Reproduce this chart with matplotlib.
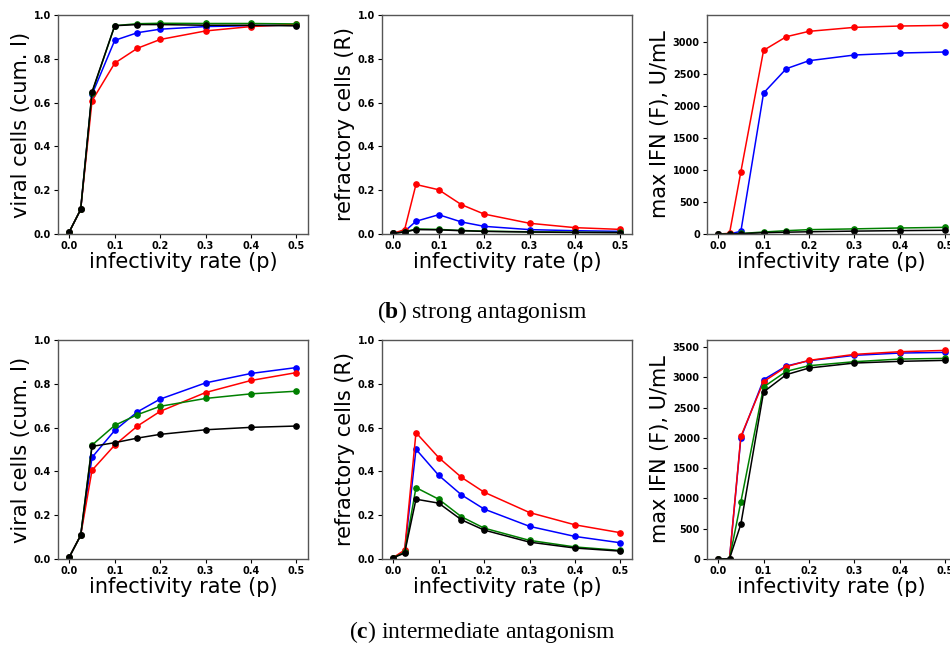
import matplotlib
matplotlib.use('Agg')
import matplotlib.pyplot as plt

# infectivity rates used for all sweeps
p_values = [0.0, 0.025, 0.05, 0.1, 0.15, 0.2, 0.3, 0.4, 0.5]

# (b) strong antagonism
strong_viral = {
    'b': [0.01, 0.112, 0.637, 0.884, 0.919, 0.935, 0.947, 0.951, 0.954],
    'r': [0.01, 0.112, 0.608, 0.780, 0.848, 0.888, 0.927, 0.947, 0.957],
    'g': [0.01, 0.112, 0.645, 0.951, 0.960, 0.962, 0.961, 0.961, 0.959],
    'k': [0.01, 0.112, 0.649, 0.951, 0.956, 0.956, 0.953, 0.953, 0.950],
}
strong_refractory = {
    'b': [0.003, 0.012, 0.058, 0.088, 0.055, 0.035, 0.020, 0.015, 0.012],
    'r': [0.003, 0.020, 0.226, 0.202, 0.134, 0.091, 0.049, 0.029, 0.021],
    'g': [0.003, 0.010, 0.023, 0.021, 0.016, 0.013, 0.010, 0.008, 0.007],
    'k': [0.003, 0.009, 0.020, 0.019, 0.015, 0.012, 0.009, 0.007, 0.006],
}
strong_ifn = {
    'b': [0, 0, 42, 2203, 2583, 2708, 2797, 2828, 2844],
    'r': [0, 10, 974, 2870, 3083, 3167, 3229, 3250, 3260],
    'g': [0, 0, 8, 31, 52, 68, 80, 94, 104],
    'k': [0, 0, 5, 20, 28, 35, 45, 53, 58],
}

# (c) intermediate antagonism
inter_viral = {
    'b': [0.009, 0.108, 0.464, 0.587, 0.672, 0.730, 0.804, 0.847, 0.874],
    'r': [0.009, 0.108, 0.405, 0.520, 0.607, 0.674, 0.760, 0.815, 0.851],
    'g': [0.009, 0.108, 0.520, 0.610, 0.659, 0.697, 0.733, 0.754, 0.766],
    'k': [0.009, 0.108, 0.514, 0.531, 0.552, 0.569, 0.590, 0.601, 0.607],
}
inter_refractory = {
    'b': [0.006, 0.035, 0.501, 0.382, 0.293, 0.228, 0.149, 0.103, 0.074],
    'r': [0.006, 0.041, 0.577, 0.463, 0.373, 0.305, 0.212, 0.156, 0.120],
    'g': [0.006, 0.030, 0.326, 0.273, 0.193, 0.141, 0.085, 0.055, 0.039],
    'k': [0.006, 0.027, 0.273, 0.255, 0.179, 0.132, 0.077, 0.050, 0.036],
}
inter_ifn = {
    'b': [0, 5, 2002, 2962, 3187, 3275, 3363, 3401, 3412],
    'r': [0, 5, 2024, 2929, 3176, 3280, 3379, 3423, 3445],
    'g': [0, 5, 944, 2841, 3099, 3192, 3258, 3302, 3313],
    'k': [0, 5, 576, 2759, 3044, 3154, 3236, 3264, 3280],
}

COLORS = {'b': 'blue', 'r': 'red', 'g': 'green', 'k': 'black'}
XLABEL = 'infectivity rate (p)'
LABEL_SIZE = 15
TICK_SIZE = 7

plt.rcParams['mathtext.fontset'] = 'custom'
plt.rcParams['mathtext.rm'] = 'Liberation Serif'
plt.rcParams['mathtext.bf'] = 'Liberation Serif:bold'

fig = plt.figure(figsize=(9.5, 6.5), dpi=100)

lefts = [0.061, 0.402, 0.744]
bottoms = [0.640, 0.140]
width, height = 0.263, 0.337


def draw_panel(ax, series, ylabel, fraction=True):
    for key in ['b', 'r', 'g', 'k']:
        ax.plot(p_values, series[key], '-o', color=COLORS[key], lw=1.1, ms=3.8)
    if fraction:
        ax.set_ylim(0, 1.0)
    else:
        ax.set_ylim(bottom=0)
    ax.set_xticks([0.0, 0.1, 0.2, 0.3, 0.4, 0.5])
    ax.set_xlabel(XLABEL, fontsize=LABEL_SIZE, labelpad=1)
    ax.set_ylabel(ylabel, fontsize=LABEL_SIZE, labelpad=2)
    ax.tick_params(labelsize=TICK_SIZE, length=3, width=0.8, pad=2)
    for lbl in ax.get_xticklabels() + ax.get_yticklabels():
        lbl.set_fontweight('bold')
    for sp in ax.spines.values():
        sp.set_color('#555555')
        sp.set_linewidth(1.0)


rows = [
    (strong_viral, strong_refractory, strong_ifn),
    (inter_viral, inter_refractory, inter_ifn),
]
ylabels = ['viral cells (cum. I)', 'refractory cells (R)', 'max IFN (F), U/mL']

for r, row in enumerate(rows):
    for c, series in enumerate(row):
        ax = fig.add_axes([lefts[c], bottoms[r], width, height])
        draw_panel(ax, series, ylabels[c], fraction=(c < 2))

fig.text(0.508, 0.52, r'($\mathbf{b}$) strong antagonism', ha='center', va='center',
         fontsize=17, family='Liberation Serif')
fig.text(0.508, 0.028, r'($\mathbf{c}$) intermediate antagonism', ha='center', va='center',
         fontsize=17, family='Liberation Serif')

fig.savefig('out.png', dpi=100)
